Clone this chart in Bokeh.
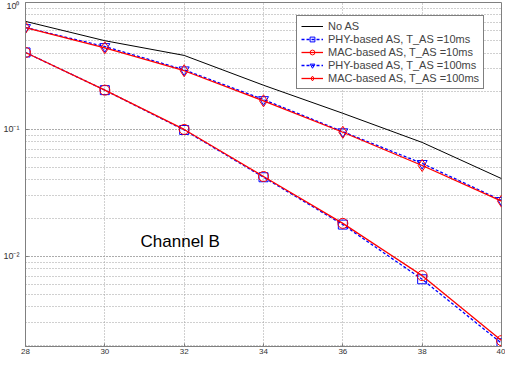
from bokeh.plotting import figure
from bokeh.models import Range1d, Label, Legend, LegendItem, FixedTicker, LogTicker, CustomJSTickFormatter
from bokeh.embed import file_html
from bokeh.resources import INLINE

snr = [28, 30, 32, 34, 36, 38, 40]
no_as = [0.71, 0.50, 0.383, 0.223, 0.134, 0.079, 0.041]
phy_10 = [0.404, 0.204, 0.099, 0.0420, 0.0178, 0.0066, 0.00207]
mac_10 = [0.404, 0.204, 0.100, 0.0426, 0.0182, 0.00705, 0.00217]
phy_100 = [0.635, 0.450, 0.295, 0.172, 0.096, 0.054, 0.0276]
mac_100 = [0.635, 0.440, 0.290, 0.168, 0.095, 0.052, 0.0272]
x_ticks = [28, 30, 32, 34, 36, 38, 40]
labels = ["No AS",
          "PHY-based AS, T_AS =10ms",
          "MAC-based AS, T_AS =10ms",
          "PHY-based AS, T_AS =100ms",
          "MAC-based AS, T_AS =100ms"]
annotation = "Channel B"

FONT = "Liberation Sans"
GRID = "#a0a0a0"

p = figure(width=505, height=357, y_axis_type="log",
           x_range=Range1d(28, 40), y_range=Range1d(0.00195, 1),
           output_backend="svg", toolbar_location=None,
           min_border_left=21, min_border_right=4, min_border_top=2, min_border_bottom=11)
p.background_fill_color = "white"
p.border_fill_color = "white"
p.outline_line_color = "#808080"
p.outline_line_width = 1

p.xaxis.ticker = FixedTicker(ticks=x_ticks)
p.yaxis.ticker = LogTicker(num_minor_ticks=10)
p.yaxis.formatter = CustomJSTickFormatter(code="""
const e = Math.round(Math.log10(tick));
const sup = {'-':'\u207b','0':'\u2070','1':'\u00b9','2':'\u00b2','3':'\u00b3'};
return '10' + String(e).split('').map(c => sup[c]).join('');
""")
for ax in (p.xaxis, p.yaxis):
    ax.axis_line_color = "#808080"
    ax.major_tick_line_color = "#808080"
    ax.major_tick_in = 3
    ax.major_tick_out = 0
    ax.minor_tick_line_color = None
    ax.major_label_text_font = FONT
    ax.major_label_text_font_size = "8px"
    ax.major_label_text_color = "#333333"
    ax.major_label_standoff = 2
p.yaxis.major_label_text_font_size = "9px"

p.xgrid.grid_line_color = GRID
p.xgrid.grid_line_dash = "1 2"
p.ygrid.grid_line_color = GRID
p.ygrid.grid_line_dash = "1 2"
p.ygrid.minor_grid_line_color = GRID
p.ygrid.minor_grid_line_dash = "1 2"

r0 = p.line(snr, no_as, line_color="black", line_width=1)

r1l = p.line(snr, phy_10, line_color="#0000ff", line_width=1.3, line_dash="3 2")
r1m = p.scatter(snr, phy_10, marker="square", size=9, fill_color=None, line_color="#0000ff", line_width=1)
r2l = p.line(snr, mac_10, line_color="#ff0000", line_width=1.3)
r2m = p.scatter(snr, mac_10, marker="circle", size=10, fill_color=None, line_color="#ff0000", line_width=1)

r3l = p.line(snr, phy_100, line_color="#0000ff", line_width=1.3, line_dash="3 2")
r3m = p.scatter(snr, phy_100, marker="inverted_triangle", size=10, fill_color=None, line_color="#0000ff", line_width=1)
r4l = p.line(snr, mac_100, line_color="#ff0000", line_width=1.3)
r4m = p.scatter(snr, mac_100, marker="diamond", size=12, fill_color=None, line_color="#ff0000", line_width=1)

legend = Legend(items=[
    LegendItem(label=labels[0], renderers=[r0]),
    LegendItem(label=labels[1], renderers=[r1l, r1m]),
    LegendItem(label=labels[2], renderers=[r2l, r2m]),
    LegendItem(label=labels[3], renderers=[r3l, r3m]),
    LegendItem(label=labels[4], renderers=[r4l, r4m]),
], location=(271, 257))
legend.label_text_font = FONT
legend.label_text_font_size = "11px"
legend.label_height = 12
legend.glyph_height = 12
legend.glyph_width = 22
legend.label_standoff = 5
legend.spacing = 1
legend.padding = 4
legend.margin = 0
legend.border_line_color = "black"
legend.border_line_width = 1
legend.background_fill_color = "white"
legend.background_fill_alpha = 1
p.add_layout(legend, "center")

p.add_layout(Label(x=30.9, y=0.0131, text=annotation, text_font=FONT,
                   text_font_size="17px", text_color="black", text_baseline="middle"))

open("out.html", "w").write(file_html(p, INLINE))
